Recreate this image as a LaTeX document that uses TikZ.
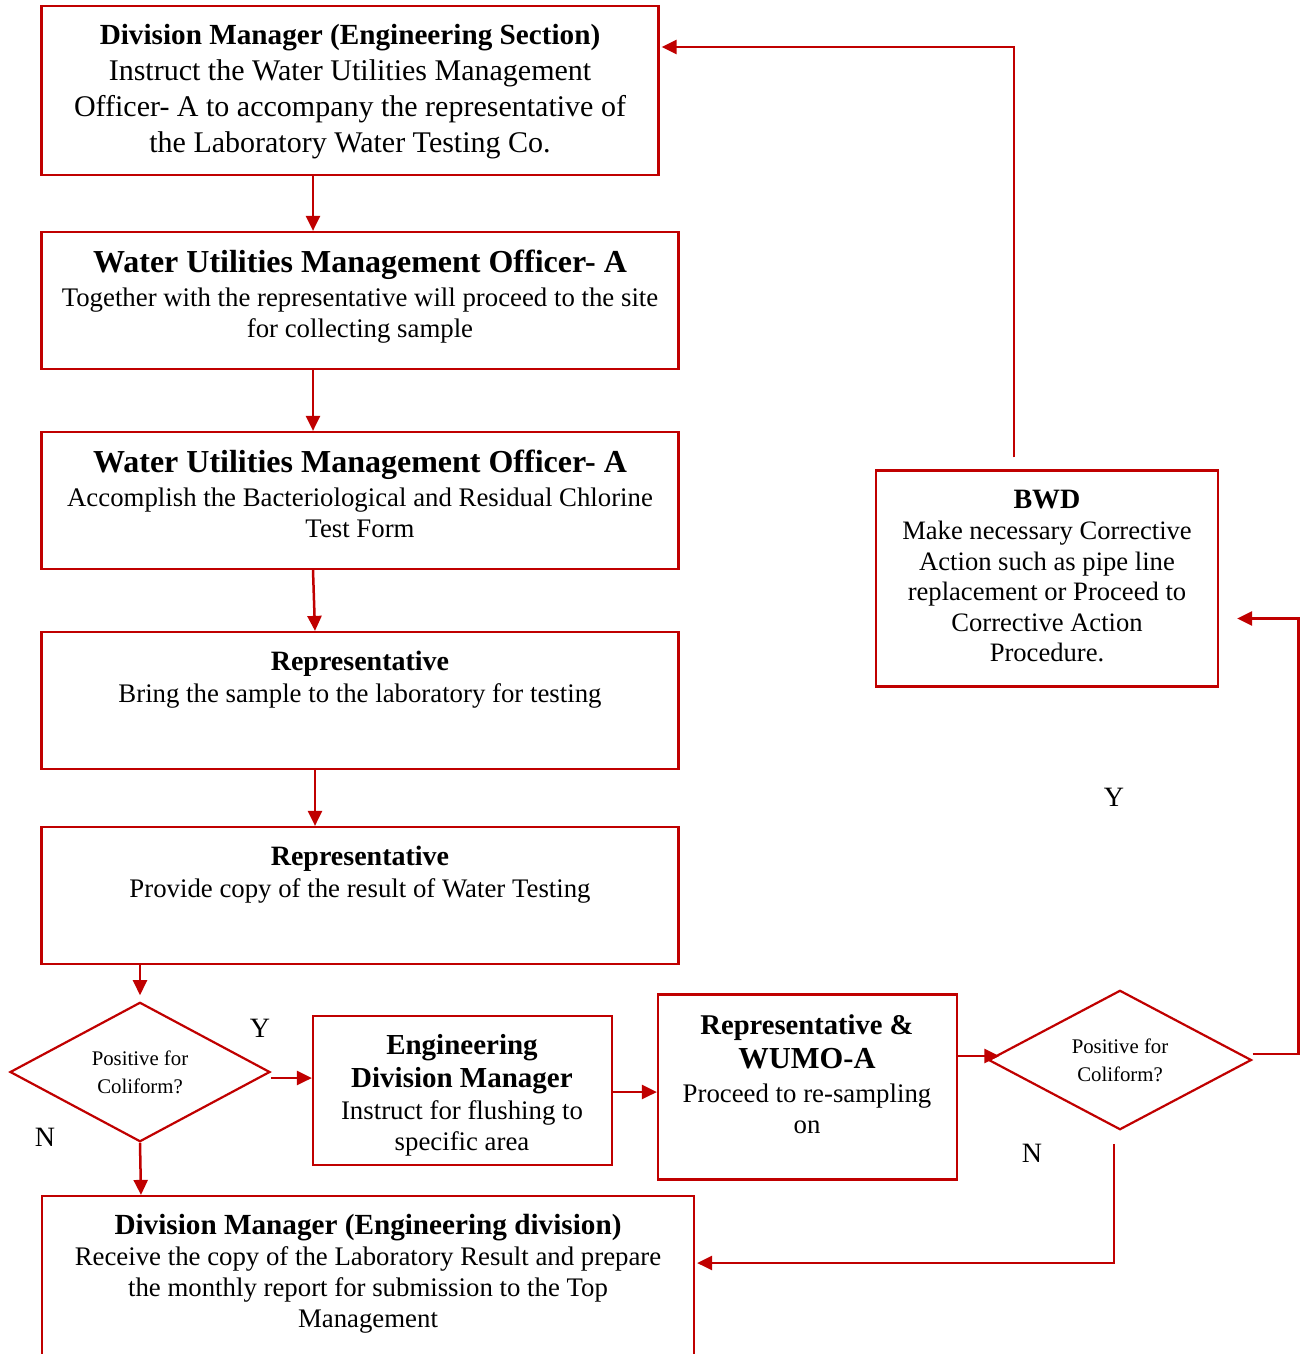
\documentclass[tikz,border=0pt]{standalone}
\usepackage{fontspec}
\setmainfont{Liberation Serif}
\usetikzlibrary{shapes.geometric,arrows.meta,calc}
\definecolor{fr}{HTML}{C00000}
\begin{document}
\begin{tikzpicture}[x=1pt,y=-1pt,
  box/.style={draw=fr,line width=2.2pt,rectangle,inner sep=0pt},
  dia/.style={draw=fr,line width=2.2pt,diamond,inner sep=0pt,minimum width=260pt,minimum height=130pt,align=center,font=\fontsize{20.8}{28}\selectfont},
  txt/.style={align=center,inner sep=0pt,font=\fontsize{26.8}{31}\selectfont},
  arr/.style={draw=fr,line width=2.5pt,-{Triangle[length=15pt,width=14pt]}},
  lbl/.style={font=\fontsize{28}{30}\selectfont,inner sep=0pt}]
\useasboundingbox (0,0) rectangle (1301,1354);
% boxes
\node[box,minimum width=617pt,minimum height=169pt] (b1) at (350,90.5) {};
\node[box,minimum width=637pt,minimum height=137pt] (b2) at (360,300.5) {};
\node[box,minimum width=637pt,minimum height=137pt] (b3) at (360,500.5) {};
\node[box,minimum width=637pt,minimum height=137pt] (b4) at (360,700.5) {};
\node[box,minimum width=637pt,minimum height=137pt] (b5) at (360,895.5) {};
\node[box,minimum width=299pt,minimum height=149pt] (b6) at (462.5,1090.5) {};
\node[box,minimum width=299pt,minimum height=185pt] (b7) at (807.5,1087) {};
\node[box,minimum width=342pt,minimum height=216pt] (b8) at (1047,578.5) {};
\node[box,minimum width=652pt,minimum height=174pt] (b9) at (368,1283) {};
\node[dia] (d1) at (140,1072) {Positive for\\Coliform?};
\node[dia,minimum width=263pt,minimum height=131pt] (d2) at (1120,1060) {Positive for\\Coliform?};
% texts
\node[txt,font=\fontsize{30}{36}\selectfont] (t1) at (350,91.5) {{\fontsize{29.2}{36}\selectfont\bfseries Division Manager (Engineering Section)}\\ Instruct the Water Utilities Management\\ Officer- A to accompany the representative of\\ the Laboratory Water Testing Co.};
\node[txt] (t2) at (360,297) {{\fontsize{32}{31}\selectfont\bfseries Water Utilities Management Officer- A}\\[3pt] Together with the representative will proceed to the site\\ for collecting sample};
\node[txt] (t3) at (360,494) {{\fontsize{32}{31}\selectfont\bfseries Water Utilities Management Officer- A}\\[3pt] Accomplish the Bacteriological and Residual Chlorine\\ Test Form};
\node[txt] (t4) at (360,680) {{\fontsize{28}{31}\selectfont\bfseries Representative}\\[1pt] Bring the sample to the laboratory for testing};
\node[txt] (t5) at (360,875) {{\fontsize{28}{31}\selectfont\bfseries Representative}\\[1pt] Provide copy of the result of Water Testing};
\node[txt] (t6) at (462,1095) {{\fontsize{29}{31}\selectfont\bfseries Engineering}\\[2pt] {\fontsize{29}{31}\selectfont\bfseries Division Manager}\\[1pt] Instruct for flushing to\\ specific area};
\node[txt] (t7) at (807,1074) {{\fontsize{28.6}{31}\selectfont\bfseries Representative \&}\\[3pt] {\fontsize{30.5}{31}\selectfont\bfseries WUMO-A}\\[3pt] Proceed to re-sampling\\ on};
\node[txt,font=\fontsize{26.6}{30.5}\selectfont] (t8) at (1047,576) {{\fontsize{28}{31}\selectfont\bfseries BWD}\\[1pt] Make necessary Corrective\\ Action such as pipe line\\ replacement or Proceed to\\ Corrective Action\\ Procedure.};
\node[txt] (t9) at (368,1274) {{\fontsize{29.2}{31}\selectfont\bfseries Division Manager (Engineering division)}\\ Receive the copy of the Laboratory Result and prepare\\ the monthly report for submission to the Top\\ Management};
% labels
\node[lbl] (y1) at (260,1028) {Y};
\node[lbl] (n1) at (45,1137) {N};
\node[lbl] (y2) at (1114,797) {Y};
\node[lbl] (n2) at (1032,1153) {N};
% connectors
\draw[arr] ([xshift=-37pt]b1.south) -- ([xshift=-47pt]b2.north);
\draw[arr] ([xshift=-47pt]b2.south) -- ([xshift=-47pt]b3.north);
\draw[arr] ([xshift=-47pt]b3.south) -- ([xshift=-45pt]b4.north);
\draw[arr] ([xshift=-45pt]b4.south) -- ([xshift=-45pt]b5.north);
\draw[arr,shorten >=6pt] ([xshift=-220pt]b5.south) -- (d1.north);
\draw[arr] (d1.south) -- ([xshift=-227pt]b9.north);
\draw[arr] ([yshift=-6pt]d1.east) -- ([yshift=-6pt]d1.east -| b6.west);
\draw[arr] ([yshift=-1.5pt]b6.east) -- ([yshift=-1.5pt]b6.east -| b7.west);
\draw[arr] ([yshift=31pt]b7.east) -- ([xshift=12pt,yshift=4pt]d2.west);
\draw[arr] ([yshift=6pt]d2.east) -- ++(46,0) |- ([xshift=18pt,yshift=-40pt]b8.east);
\draw[arr] ([xshift=-33pt,yshift=12pt]b8.north) |- ([xshift=2pt,yshift=43.5pt]b1.east);
\draw[arr] ([xshift=-6pt,yshift=-13pt]d2.south) |- ([xshift=2pt,yshift=20pt]b9.east);
\end{tikzpicture}
\end{document}
